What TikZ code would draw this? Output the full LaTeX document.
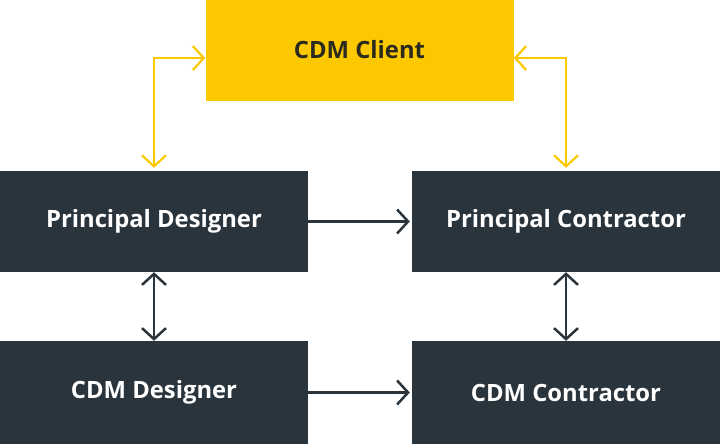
\documentclass[tikz,border=0pt]{standalone}
\usepackage{fontspec}
\setmainfont{Open Sans}
\usetikzlibrary{arrows.meta}
\definecolor{cdmyellow}{HTML}{FCC800}
\definecolor{cdmdark}{HTML}{2A343C}
\definecolor{cdmtext}{HTML}{2B2A1E}
\tikzset{
  darkbox/.style={fill=cdmdark, draw=none, minimum width=308pt, text=white, font=\fontsize{23.8}{28}\selectfont\bfseries, inner sep=0pt},
  yellowbox/.style={fill=cdmyellow, draw=none, minimum width=308pt, minimum height=101pt, text=cdmtext, font=\fontsize{23.8}{28}\selectfont\bfseries, inner sep=0pt},
  darkarrow/.style={draw=cdmdark, line width=2.5pt, -{Straight Barb[length=11pt,width=24pt,line width=2.5pt]}},
  darkdouble/.style={draw=cdmdark, line width=2.5pt, {Straight Barb[length=11pt,width=24pt,line width=2.5pt]}-{Straight Barb[length=11pt,width=24pt,line width=2.5pt]}},
  yellowdouble/.style={draw=cdmyellow, line width=2.2pt, {Straight Barb[length=11pt,width=24pt,line width=2.2pt]}-{Straight Barb[length=11pt,width=24pt,line width=2.2pt]}},
}
\begin{document}
\begin{tikzpicture}[x=1pt,y=-1pt]
\useasboundingbox (0,0) rectangle (720,444);
\node[yellowbox] (client) at (359.5,50) {CDM Client};
\node[darkbox, minimum height=101pt] (pd) at (154,221.5) {Principal Designer};
\node[darkbox, minimum height=101pt] (pc) at (566,221.5) {Principal Contractor};
\node[darkbox, minimum height=103pt] (cd) at (154,392.5) {CDM Designer};
\node[darkbox, minimum height=103pt] (cc) at (566,392.5) {CDM Contractor};
\draw[yellowdouble, shorten >=3pt] ([yshift=-8pt]client.west) -| (pd.north);
\draw[yellowdouble, shorten >=3pt] ([yshift=-8pt]client.east) -| (pc.north);
\draw[darkarrow, shorten >=2pt] (pd.east) -- (pc.west);
\draw[darkarrow, shorten >=2pt] (cd.east) -- (cc.west);
\draw[darkdouble] (pd.south) -- (cd.north);
\draw[darkdouble] (pc.south) -- (cc.north);
\end{tikzpicture}
\end{document}
